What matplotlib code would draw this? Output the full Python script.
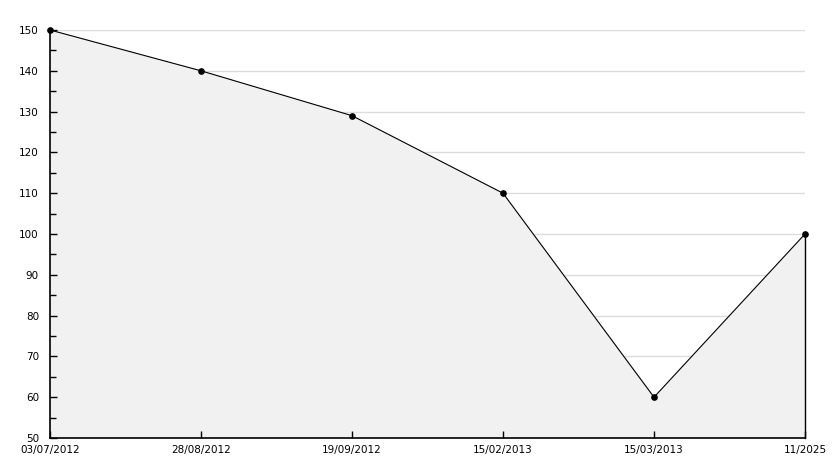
import matplotlib
matplotlib.use("Agg")
import matplotlib.pyplot as plt
from matplotlib.ticker import MultipleLocator

categories = ["03/07/2012", "28/08/2012", "19/09/2012", "15/02/2013", "15/03/2013", "11/2025"]
values = [150, 140, 129, 110, 60, 100]
y_min, y_max, y_step = 50, 150, 10

fig = plt.figure(figsize=(8.34, 4.68), dpi=100)
ax = fig.add_axes([50/834, 30/468, 755/834, 408/468])
x = list(range(len(categories)))

ax.set_xlim(0, len(categories) - 1)
ax.set_ylim(y_min, y_max)
ax.yaxis.set_major_locator(MultipleLocator(y_step))
ax.yaxis.set_minor_locator(MultipleLocator(y_step / 2))
for yv in range(y_min + y_step, y_max + 1, y_step):
    ax.axhline(yv, color="#dcdcdc", linewidth=1, zorder=0.5)

ax.fill_between(x, values, y_min, color="#f1f1f1", zorder=1)
ax.plot(x, values, color="black", linewidth=0.8, zorder=3, clip_on=False)
ax.plot(x, values, linestyle="none", marker="o", markersize=3.8, color="black", zorder=5, clip_on=False)
ax.plot([x[-1], x[-1]], [y_min, values[-1]], color="black", linewidth=1, zorder=4, clip_on=False)

ax.set_xticks(x)
ax.set_xticklabels(categories)
for s in ["top", "right"]:
    ax.spines[s].set_visible(False)
ax.spines["left"].set_linewidth(1.2)
ax.spines["bottom"].set_linewidth(1.2)
ax.tick_params(axis="both", which="major", direction="in", length=5, width=1, labelsize=7.5, colors="black")
ax.tick_params(axis="y", which="minor", direction="in", length=4, width=1)
ax.tick_params(axis="x", pad=5)
ax.tick_params(axis="y", pad=8)

fig.savefig("out.png", dpi=100, facecolor="white")
